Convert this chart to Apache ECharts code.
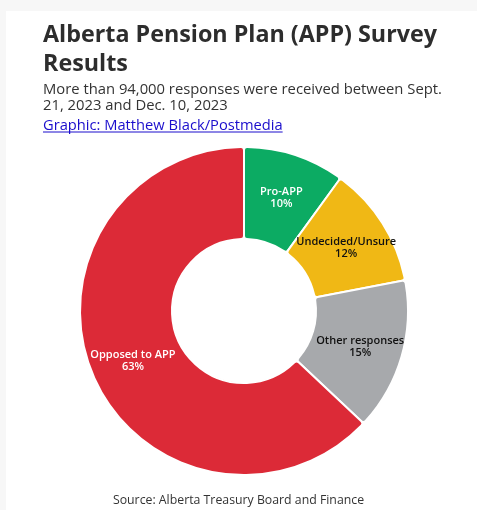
<!DOCTYPE html>
<html>
<head>
<meta charset="utf-8">
<script src="https://cdn.jsdelivr.net/npm/echarts@6/dist/echarts.min.js"></script>
<style>
  html, body { margin: 0; padding: 0; background: #fff; }
  #chart { width: 477px; height: 510px; }
</style>
</head>
<body>
<div id="chart"></div>
<script>
// survey shares, clockwise from 12 o'clock
const categories = ['Pro-APP', 'Undecided/Unsure', 'Other responses', 'Opposed to APP']
const values = [10, 12, 15, 63]

const sliceColors = ['#0cab63', '#f0b815', '#a7a9ac', '#dc2a37']
const labelColors = ['#fff', '#111', '#111', '#fff']

const FONT = '"Open Sans", "Noto Sans", sans-serif'
const linkText = 'Graphic: Matthew Black/Postmedia'

function textWidth(txt, font) {
  const c = document.createElement('canvas').getContext('2d')
  c.font = font
  return c.measureText(txt).width
}

const chart = echarts.init(document.getElementById('chart'), null, { renderer: 'canvas' })
const linkW = textWidth(linkText, '14.7px ' + FONT)

chart.setOption({
  backgroundColor: '#fff',
  title: [
    {
      text: 'Alberta Pension Plan (APP) Survey\nResults',
      left: 38, top: 16,
      textStyle: { fontFamily: FONT, fontSize: 23.3, fontWeight: 'bold', color: '#2d2d2d', lineHeight: 29 }
    },
    {
      text: 'More than 94,000 responses were received between Sept.\n21, 2023 and Dec. 10, 2023',
      left: 38, top: 77,
      textStyle: { fontFamily: FONT, fontSize: 14.8, fontWeight: 'normal', color: '#333', lineHeight: 16 }
    },
    {
      text: linkText,
      left: 38, top: 113,
      textStyle: { fontFamily: FONT, fontSize: 14.7, fontWeight: 'normal', color: '#1a0dcc' }
    },
    {
      text: 'Source: Alberta Treasury Board and Finance',
      left: 'center', top: 489,
      textStyle: { fontFamily: FONT, fontSize: 12.3, fontWeight: 'normal', color: '#333' }
    }
  ],
  graphic: [
    { type: 'rect', shape: { x: 0, y: 0, width: 477, height: 11 }, style: { fill: '#f7f7f7' }, silent: true },
    { type: 'rect', shape: { x: 0, y: 0, width: 6, height: 510 }, style: { fill: '#f7f7f7' }, silent: true },
    {
      type: 'line',
      shape: { x1: 43, y1: 132, x2: 43 + linkW, y2: 132 },
      style: { stroke: '#1a0dcc', lineWidth: 1 }
    }
  ],
  series: [{
    type: 'pie',
    center: [244, 311],
    radius: [72, 164],
    startAngle: 90,
    clockwise: true,
    avoidLabelOverlap: false,
    itemStyle: { borderColor: '#fff', borderWidth: 2, borderRadius: 3 },
    label: {
      position: 'inside',
      formatter: '{b}\n{c}%',
      fontFamily: FONT,
      fontSize: 11,
      fontWeight: 600,
      lineHeight: 12,
      offset: [0, 2]
    },
    labelLine: { show: false },
    emphasis: { disabled: true },
    data: categories.map((name, i) => ({
      name,
      value: values[i],
      itemStyle: { color: sliceColors[i] },
      label: { color: labelColors[i] }
    }))
  }]
})
</script>
</body>
</html>
